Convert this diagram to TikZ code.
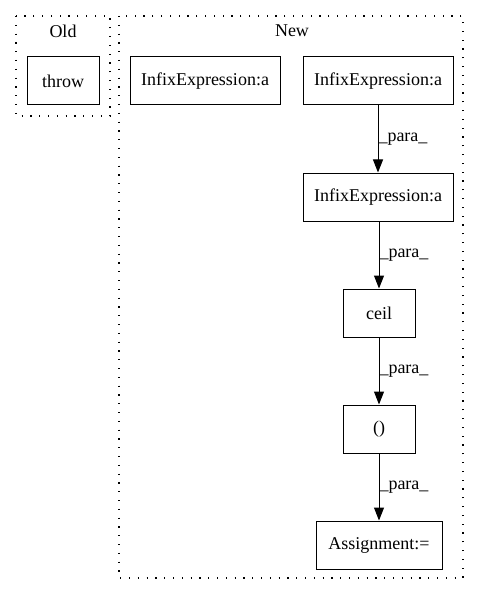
\documentclass[tikz,border=0pt]{standalone}
\usepackage{fontspec}
\setmainfont{Liberation Serif}
\usetikzlibrary{arrows.meta}
\begin{document}
\begin{tikzpicture}[x=1pt,y=-1pt,
  box/.style={draw,line width=1pt,minimum height=48pt,inner sep=0pt,font=\fontsize{18}{20}\selectfont},
  cluster/.style={draw,line width=1.1pt,dash pattern=on 1.2pt off 7.6pt},
  flow/.style={line width=1pt,-{Triangle[length=13pt,width=10pt]}},
  lbl/.style={font=\fontsize{18}{20}\selectfont,anchor=west,inner sep=0pt},
  ctitle/.style={font=\fontsize{18}{20}\selectfont}]
\useasboundingbox (0,0) rectangle (480,596);
\draw[cluster] (16,16) rectangle (110,116);
\node[ctitle] (old) at (63,31) {Old};
\draw[cluster] (119,16) rectangle (463,578);
\node[ctitle] (new) at (292,31) {New};
\node[box,minimum width=72pt] (throw) at (63,81) {throw};
\node[box,minimum width=150pt] (ia) at (205,81) {InfixExpression:a};
\node[box,minimum width=150pt] (ib) at (378,81) {InfixExpression:a};
\node[box,minimum width=150pt] (ic) at (378,197) {InfixExpression:a};
\node[box,minimum width=72pt] (ceil) at (379,313) {ceil};
\node[box,minimum width=72pt] (par) at (379,429) {()};
\node[box,minimum width=126pt] (asg) at (379,545) {Assignment:=};
\draw[flow] (ib.south) -- node[lbl] {\_para\_} (ib.south |- ic.north);
\draw[flow] (ic.south -| ceil.north) -- node[lbl] {\_para\_} (ceil.north);
\draw[flow] (ceil.south) -- node[lbl] {\_para\_} (par.north);
\draw[flow] (par.south) -- node[lbl] {\_para\_} (par.south |- asg.north);
\end{tikzpicture}
\end{document}
